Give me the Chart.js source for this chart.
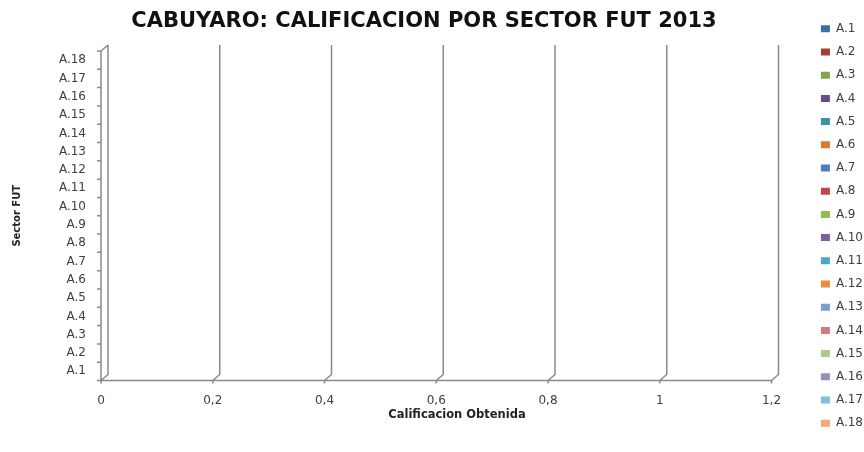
<!DOCTYPE html>
<html>
<head>
<meta charset="utf-8">
<script src="https://cdn.jsdelivr.net/npm/chart.js@4.4.0/dist/chart.umd.min.js"></script>
<style>
html,body{margin:0;padding:0;background:#ffffff;}
#wrap{width:864px;height:452px;}
</style>
</head>
<body>
<div id="wrap"><canvas id="c" width="864" height="452"></canvas></div>
<script>
// ---- data ----
const chartTitle = 'CABUYARO: CALIFICACION POR SECTOR FUT 2013';
const xAxisTitle = 'Calificacion Obtenida';
const yAxisTitle = 'Sector FUT';
const sectors = ['A.1','A.2','A.3','A.4','A.5','A.6','A.7','A.8','A.9','A.10','A.11','A.12','A.13','A.14','A.15','A.16','A.17','A.18'];
const scores = [0,0,0,0,0,0,0,0,0,0,0,0,0,0,0,0,0,0];
const xTickLabels = ['0','0,2','0,4','0,6','0,8','1','1,2'];
const xMin = 0, xMax = 1.2, xStep = 0.2;

// ---- styles ----
const seriesColors = ['#3E6DA9','#A93B37','#86A44A','#674C8A','#3A91A9','#D9782F',
  '#4A7EC0','#C0474A','#93BC4F','#7D5FA0','#48AAC5','#F08A3E',
  '#7E9ECF','#CF7D7E','#ADCB8A','#9E8BC1','#7EBFD4','#F7A777'];
const FONT = 'DejaVu Sans';
const TEXT = '#404040';
const GRID = '#8a8a8a';
const LEGEND_PAD = 11.2;

const datasets = sectors.map((name, i) => ({
  label: name,
  data: sectors.map((_, j) => (j === i ? scores[i] : null)),
  backgroundColor: seriesColors[i],
  borderWidth: 0
}));

const titlePlugin = {
  id: 'titleText',
  afterDraw(chart) {
    const ctx = chart.ctx;
    ctx.save();
    ctx.textAlign = 'center';
    ctx.textBaseline = 'middle';
    ctx.font = 'bold 21px "' + FONT + '"';
    ctx.fillStyle = '#111111';
    ctx.fillText(chartTitle, 424, 22);
    ctx.font = 'bold 11.5px "' + FONT + '"';
    ctx.fillStyle = '#222222';
    ctx.fillText(xAxisTitle, 457, 415);
    ctx.restore();
  }
};

// keep the legend column hugging the right edge of the canvas
const legendShift = {
  id: 'legendShift',
  afterLayout(chart) {
    const lg = chart.legend;
    if (lg && lg.columnSizes && lg.columnSizes.length) {
      lg.right = chart.width;
      lg.left = chart.width - lg.columnSizes[0].width - LEGEND_PAD - 1;
      lg.width = lg.right - lg.left;
    }
  }
};

const depthPlugin = {
  id: 'depthGrid',
  beforeDatasetsDraw(chart) {
    const {ctx, chartArea: a, scales: {x, y}} = chart;
    const dx = 7, dy = 6;
    ctx.save();
    ctx.strokeStyle = GRID;
    ctx.lineWidth = 1.5;
    ctx.beginPath();
    x.ticks.forEach(t => {
      const px = x.getPixelForValue(t.value);
      ctx.moveTo(px + dx, a.top - dy);
      ctx.lineTo(px + dx, a.bottom - dy);
      ctx.lineTo(px, a.bottom);
      ctx.lineTo(px, a.bottom + 3);
    });
    ctx.moveTo(a.left, a.bottom);
    ctx.lineTo(a.right, a.bottom);
    ctx.moveTo(a.left + dx, a.top - dy);
    ctx.lineTo(a.left, a.top);
    ctx.lineTo(a.left, a.bottom);
    for (let i = 0; i <= sectors.length; i++) {
      const py = y.getPixelForValue(i - 0.5);
      ctx.moveTo(a.left - 4, py);
      ctx.lineTo(a.left, py);
    }
    ctx.stroke();
    ctx.restore();
  }
};

new Chart(document.getElementById('c'), {
  type: 'bar',
  data: { labels: sectors, datasets: datasets },
  plugins: [legendShift, titlePlugin, depthPlugin],
  options: {
    indexAxis: 'y',
    responsive: false,
    animation: false,
    devicePixelRatio: 1,
    layout: { padding: 0 },
    plugins: {
      title: { display: false },
      tooltip: { enabled: false },
      legend: {
        position: 'right',
        align: 'center',
        labels: {
          boxWidth: 9,
          boxHeight: 7,
          padding: LEGEND_PAD,
          color: TEXT,
          font: { family: FONT, size: 12 }
        }
      }
    },
    scales: {
      x: {
        type: 'linear',
        min: xMin,
        max: xMax,
        grid: { display: false, drawTicks: false },
        border: { display: false },
        ticks: {
          stepSize: xStep,
          padding: 13,
          color: TEXT,
          font: { family: FONT, size: 12 },
          callback: (v, i) => xTickLabels[i]
        },
        title: { display: false },
        afterFit(s) { s.height = 71.5; s.paddingRight = 92.5; }
      },
      y: {
        reverse: true,
        grid: { display: false, drawTicks: false },
        border: { display: false },
        ticks: {
          padding: 15,
          color: TEXT,
          font: { family: FONT, size: 12 }
        },
        title: {
          display: true,
          text: yAxisTitle,
          color: '#222222',
          font: { family: FONT, size: 10, weight: 'bold' },
          padding: { top: 11, bottom: 0 }
        },
        afterFit(s) { s.width = 101; s.paddingTop = 51; }
      }
    }
  }
});
</script>
</body>
</html>
